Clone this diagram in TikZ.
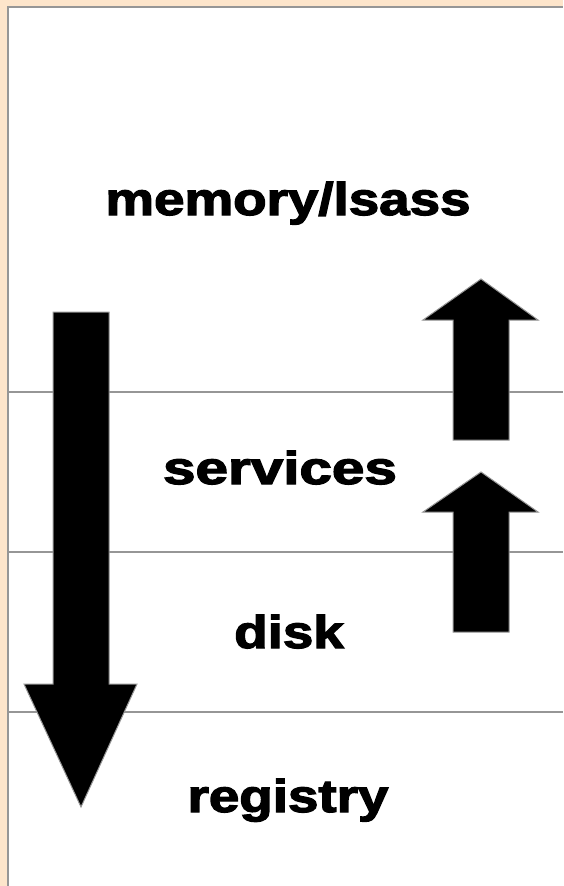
\documentclass[tikz,border=0pt]{standalone}
\usepackage{fontspec}
\setmainfont{Liberation Sans}
\newfontfamily\heavyfont[FakeBold=2.6]{Liberation Sans Bold}
\definecolor{peach}{RGB}{253,229,203}
\definecolor{rulegray}{RGB}{150,150,150}
\tikzset{
  layer/.style={draw=rulegray, line width=1.5pt},
  blockarrow/.style={fill=black, draw=rulegray, line width=1pt, line join=miter},
  label/.style={font=\heavyfont\fontsize{46}{50}\selectfont, inner sep=0pt, anchor=base},
}
\newcommand{\wide}[2][1.19]{\scalebox{#1}[1]{#2}}
\begin{document}
\begin{tikzpicture}[x=1pt, y=-1pt]
  % page background and white panel
  \fill[peach] (0,0) rectangle (563,886);
  \useasboundingbox (0,0) rectangle (563,886);
  \fill[white] (8,7) rectangle (563,886);
  \draw[rulegray, line width=2pt] (8,886) -- (8,7) -- (563,7);

  % layer separators
  \coordinate (l1a) at (8,392);  \coordinate (l1b) at (563,392);
  \coordinate (l2a) at (8,552);  \coordinate (l2b) at (563,552);
  \coordinate (l3a) at (8,712);  \coordinate (l3b) at (563,712);
  \draw[layer] (l1a) -- (l1b);
  \draw[layer] (l2a) -- (l2b);
  \draw[layer] (l3a) -- (l3b);

  % long downward arrow
  \draw[blockarrow] (53,312) -- (109,312) -- (109,684) -- (137,684)
    -- (81,807) -- (24,684) -- (53,684) -- cycle;

  % upper upward arrow
  \draw[blockarrow] (453,440) -- (509,440) -- (509,320) -- (538,320)
    -- (481,279) -- (423,320) -- (453,320) -- cycle;

  % lower upward arrow
  \draw[blockarrow] (453,632) -- (509,632) -- (509,512) -- (538,512)
    -- (481,472) -- (423,512) -- (453,512) -- cycle;

  % layer labels
  \node[label] (mem) at (288,215) {\wide{memory/lsass}};
  \node[label] (svc) at (280,484) {\wide[1.27]{services}};
  \node[label] (dsk) at (289,648) {\wide{disk}};
  \node[label] (reg) at (288,812) {\wide{registry}};
\end{tikzpicture}
\end{document}
